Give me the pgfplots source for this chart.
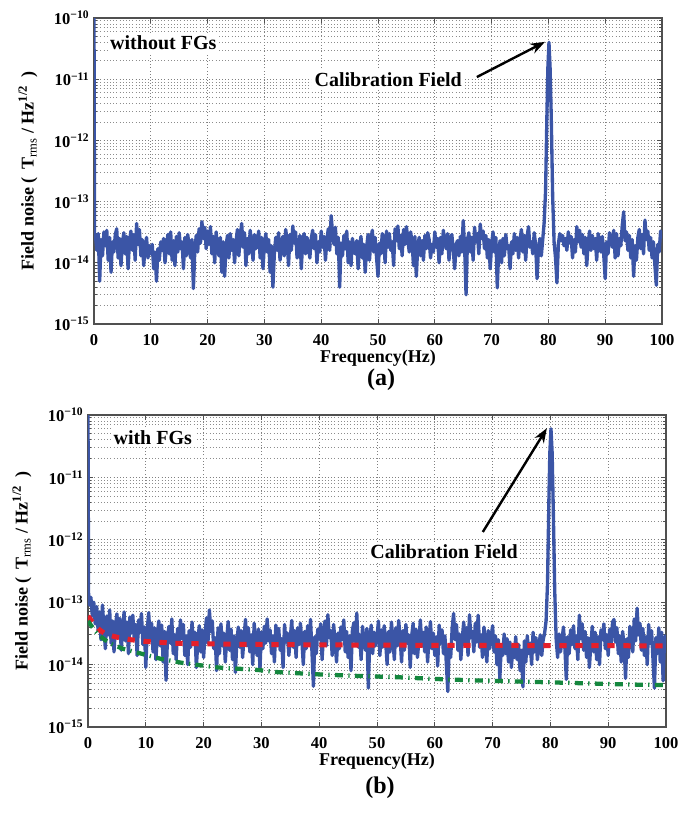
\documentclass[border=0pt]{standalone}
\usepackage{pgfplots}
\pgfplotsset{compat=1.18}
\usepackage{fontspec}
\setmainfont{Liberation Serif}
\usetikzlibrary{arrows.meta}
\definecolor{cblue}{HTML}{3B55A6}
\definecolor{cred}{HTML}{E51F2A}
\definecolor{cgreen}{HTML}{15873E}
\definecolor{cframe}{HTML}{505050}
\pgfplotsset{
 myax/.style={
  scale only axis, xmin=0, xmax=100, ymin=1e-15, ymax=1e-10,
  xtick={0,10,...,100}, ytick={1e-15,1e-14,1e-13,1e-12,1e-11,1e-10},
  yticklabels={10\textsuperscript{−15},10\textsuperscript{−14},10\textsuperscript{−13},10\textsuperscript{−12},10\textsuperscript{−11},10\textsuperscript{−10}},
  grid=both,
  major grid style={dotted, black!50, line width=0.6pt},
  minor grid style={dotted, black!45, line width=0.6pt},
  tick align=inside, major tick length=3.75pt, minor tick length=2.25pt,
  every tick/.style={cframe, line width=0.6pt},
  axis line style={cframe, line width=1pt},
  xticklabel style={font=\fontsize{12.4}{14}\selectfont\bfseries, yshift=-4pt, /pgf/number format/assume math mode=true},
  yticklabel style={font=\fontsize{12.4}{14}\selectfont\bfseries},
  every axis x label/.style={at={(rel axis cs:0.5,0)}, anchor=center, yshift=-26pt, font=\fontsize{13.5}{15}\selectfont\bfseries},
  every axis y label/.style={at={(rel axis cs:0,0.5)}, anchor=center, rotate=90, yshift=49.5pt, font=\fontsize{13.5}{15}\selectfont\bfseries},
  xlabel={Frequency(Hz)},
  ylabel={Field noise (\, T\textsubscript{\mdseries rms} / Hz\textsuperscript{1/2}\, )},
 },
 noise/.style={cblue, line width=2.5pt, line join=round, mark=none},
}
\begin{document}
\begin{tikzpicture}
\path[use as bounding box] (0,0) rectangle (513.75pt,-612pt);
% ---------------- panel (a) ----------------
\begin{axis}[ymode=log, myax, at={(70.5pt,-13.5pt)}, anchor=north west, width=426pt, height=229.5pt]
\addplot[noise] coordinates {
(0,1e-10)(0.1,2.9e-14)(0.25,2.8e-14)(0.5,1.6e-14)(0.75,3.0e-14)
(1,5e-15)(1.25,2.4e-14)(1.5,1.3e-14)(1.75,3.2e-14)
(2,1.9e-14)(2.25,3.4e-14)(2.5,1.1e-14)(2.75,2.6e-14)
(3,7e-15)(3.25,2.2e-14)(3.5,1.5e-14)(3.75,2.9e-14)
(4,3.6e-14)(4.25,1.2e-14)(4.5,2.5e-14)(4.75,9e-15)
(5,2.1e-14)(5.25,3.1e-14)(5.5,1.4e-14)(5.75,2.7e-14)
(6,8e-15)(6.25,2.3e-14)(6.5,3.3e-14)(6.75,1.6e-14)
(7,2.9e-14)(7.25,1.1e-14)(7.5,4.4e-14)(7.75,2.0e-14)
(8,3.5e-14)(8.25,1.3e-14)(8.5,2.4e-14)(8.75,9e-15)
(9,1.8e-14)(9.25,2.6e-14)(9.5,1.2e-14)(9.75,1.9e-14)
(10,1.4e-14)(10.25,2.0e-14)(10.5,8e-15)(10.75,1.5e-14)
(11,5e-15)(11.25,1.7e-14)(11.5,1.1e-14)(11.75,2.2e-14)
(12,1.6e-14)(12.25,2.5e-14)(12.5,1.0e-14)(12.75,1.8e-14)
(13,2.9e-14)(13.25,1.4e-14)(13.5,3.2e-14)(13.75,1.1e-14)
(14,2.3e-14)(14.25,9e-15)(14.5,2.7e-14)(14.75,1.5e-14)
(15,3.1e-14)(15.25,1.7e-14)(15.5,2.2e-14)(15.75,8e-15)
(16,2.6e-14)(16.25,1.3e-14)(16.5,2.9e-14)(16.75,1.9e-14)
(17,1.2e-14)(17.25,2.4e-14)(17.5,3.8e-15)(17.75,1.6e-14)
(18,2.8e-14)(18.25,1.5e-14)(18.5,3.6e-14)(18.75,2.1e-14)
(19,4.7e-14)(19.25,2.5e-14)(19.5,3.8e-14)(19.75,1.7e-14)
(20,3.3e-14)(20.25,2.0e-14)(20.5,3.9e-14)(20.75,1.4e-14)
(21,2.7e-14)(21.25,1.0e-14)(21.5,3.2e-14)(21.75,1.8e-14)
(22,1.3e-14)(22.25,2.6e-14)(22.5,7e-15)(22.75,2.2e-14)
(23,6e-15)(23.25,1.9e-14)(23.5,2.8e-14)(23.75,1.2e-14)
(24,3.0e-14)(24.25,1.6e-14)(24.5,2.4e-14)(24.75,1.0e-14)
(25,2.2e-14)(25.25,3.5e-14)(25.5,1.3e-14)(25.75,2.7e-14)
(26,4.4e-14)(26.25,1.8e-14)(26.5,3.1e-14)(26.75,9e-15)
(27,2.5e-14)(27.25,1.4e-14)(27.5,3.4e-14)(27.75,2.0e-14)
(28,1.1e-14)(28.25,2.9e-14)(28.5,1.7e-14)(28.75,2.3e-14)
(29,3.3e-14)(29.25,1.2e-14)(29.5,2.6e-14)(29.75,8e-15)
(30,2.0e-14)(30.25,3.0e-14)(30.5,1.5e-14)(30.75,2.4e-14)
(31,7e-15)(31.25,1.9e-14)(31.5,4e-15)(31.75,1.4e-14)
(32,2.6e-14)(32.25,1.6e-14)(32.5,3.1e-14)(32.75,1.1e-14)
(33,1.8e-14)(33.25,2.7e-14)(33.5,1.3e-14)(33.75,3.5e-14)
(34,2.3e-14)(34.25,9e-15)(34.5,2.9e-14)(34.75,1.6e-14)
(35,4.0e-14)(35.25,2.1e-14)(35.5,3.2e-14)(35.75,1.2e-14)
(36,1.5e-14)(36.25,2.8e-14)(36.5,8e-15)(36.75,2.4e-14)
(37,3.0e-14)(37.25,1.4e-14)(37.5,2.6e-14)(37.75,1.9e-14)
(38,1.2e-14)(38.25,2.5e-14)(38.5,3.4e-14)(38.75,1.7e-14)
(39,2.9e-14)(39.25,1.0e-14)(39.5,2.2e-14)(39.75,1.5e-14)
(40,3.3e-14)(40.25,1.8e-14)(40.5,2.7e-14)(40.75,1.1e-14)
(41,2.4e-14)(41.25,3.6e-14)(41.5,1.6e-14)(41.75,5.9e-14)
(42,3.1e-14)(42.25,2.0e-14)(42.5,3.8e-14)(42.75,1.4e-14)
(43,2.6e-14)(43.25,4e-15)(43.5,2.1e-14)(43.75,1.3e-14)
(44,2.8e-14)(44.25,1.7e-14)(44.5,3.3e-14)(44.75,1.0e-14)
(45,2.2e-14)(45.25,9e-15)(45.5,2.5e-14)(45.75,1.6e-14)
(46,1.4e-14)(46.25,2.3e-14)(46.5,8e-15)(46.75,1.9e-14)
(47,2.7e-14)(47.25,1.2e-14)(47.5,2.0e-14)(47.75,7e-15)
(48,1.8e-14)(48.25,2.9e-14)(48.5,1.1e-14)(48.75,2.4e-14)
(49,3.4e-14)(49.25,1.5e-14)(49.5,2.6e-14)(49.75,1.2e-14)
(50,6e-15)(50.25,2.1e-14)(50.5,1.4e-14)(50.75,3.0e-14)
(51,2.5e-14)(51.25,1.0e-14)(51.5,3.3e-14)(51.75,1.8e-14)
(52,3.0e-14)(52.25,1.6e-14)(52.5,2.2e-14)(52.75,9e-15)
(53,3.6e-14)(53.25,2.3e-14)(53.5,4.0e-14)(53.75,1.7e-14)
(54,2.8e-14)(54.25,1.3e-14)(54.5,3.5e-14)(54.75,2.0e-14)
(55,3.9e-14)(55.25,2.4e-14)(55.5,1.5e-14)(55.75,3.2e-14)
(56,2.1e-14)(56.25,9e-15)(56.5,2.7e-14)(56.75,6e-15)
(57,1.9e-14)(57.25,2.6e-14)(57.5,1.3e-14)(57.75,2.3e-14)
(58,1.1e-14)(58.25,2.8e-14)(58.5,1.7e-14)(58.75,3.1e-14)
(59,2.4e-14)(59.25,1.2e-14)(59.5,2.0e-14)(59.75,1.5e-14)
(60,3.2e-14)(60.25,1.8e-14)(60.5,2.5e-14)(60.75,1.0e-14)
(61,2.6e-14)(61.25,1.4e-14)(61.5,3.4e-14)(61.75,2.2e-14)
(62,1.7e-14)(62.25,3.0e-14)(62.5,1.1e-14)(62.75,2.5e-14)
(63,2.9e-14)(63.25,1.6e-14)(63.5,8e-15)(63.75,2.0e-14)
(64,2.3e-14)(64.25,1.3e-14)(64.5,2.7e-14)(64.75,1.5e-14)
(65,4.9e-14)(65.25,1.8e-14)(65.5,3e-15)(65.75,2.4e-14)
(66,3.1e-14)(66.25,1.5e-14)(66.5,2.6e-14)(66.75,1.1e-14)
(67,3.8e-14)(67.25,2.2e-14)(67.5,3.0e-14)(67.75,1.4e-14)
(68,4.3e-14)(68.25,2.5e-14)(68.5,3.3e-14)(68.75,1.7e-14)
(69,2.8e-14)(69.25,1.2e-14)(69.5,2.4e-14)(69.75,8e-15)
(70,2.0e-14)(70.25,3.2e-14)(70.5,1.5e-14)(70.75,2.6e-14)
(71,3.9e-15)(71.25,1.6e-14)(71.5,2.3e-14)(71.75,1.0e-14)
(72,2.5e-14)(72.25,1.3e-14)(72.5,2.9e-14)(72.75,1.7e-14)
(73,1.9e-14)(73.25,8e-15)(73.5,2.2e-14)(73.75,1.4e-14)
(74,3.0e-14)(74.25,1.6e-14)(74.5,2.6e-14)(74.75,1.2e-14)
(75,2.4e-14)(75.25,3.5e-14)(75.5,1.5e-14)(75.75,2.8e-14)
(76,1.1e-14)(76.25,2.7e-14)(76.5,3.9e-14)(76.75,1.8e-14)
(77,2.2e-14)(77.25,1.4e-14)(77.5,3.1e-14)(77.75,2.0e-14)
(78,5.5e-15)(78.25,1.7e-14)(78.5,2.5e-14)(78.75,1.3e-14)
(79,2.4e-14)(79.25,4.5e-14)(79.5,1.5e-13)(79.75,3e-12)(79.9,1.5e-11)
(80.1,4e-11)(80.3,1.5e-11)(80.5,2.5e-12)(80.75,1.2e-13)
(81,2.2e-14)(81.25,1.2e-14)(81.5,4.7e-15)(81.75,2.0e-14)
(82,3.0e-14)(82.25,2.3e-14)(82.5,2.8e-14)(82.75,1.9e-14)
(83,2.5e-14)(83.25,1.6e-14)(83.5,3.2e-14)(83.75,2.1e-14)
(84,2.7e-14)(84.25,1.2e-14)(84.5,2.4e-14)(84.75,1.5e-14)
(85,3.9e-14)(85.25,2.2e-14)(85.5,3.4e-14)(85.75,1.8e-14)
(86,2.9e-14)(86.25,1.4e-14)(86.5,2.6e-14)(86.75,9e-15)
(87,2.1e-14)(87.25,3.3e-14)(87.5,1.6e-14)(87.75,2.8e-14)
(88,1.7e-14)(88.25,2.5e-14)(88.5,1.1e-14)(88.75,3.0e-14)
(89,2.3e-14)(89.25,1.5e-14)(89.5,2.7e-14)(89.75,1.3e-14)
(90,5.5e-15)(90.25,2.2e-14)(90.5,1.4e-14)(90.75,3.1e-14)
(91,2.6e-14)(91.25,1.8e-14)(91.5,3.4e-14)(91.75,1.2e-14)
(92,3.0e-14)(92.25,1.3e-14)(92.5,2.5e-14)(92.75,1.9e-14)
(93,4.1e-14)(93.25,6.8e-14)(93.5,2.3e-14)(93.75,3.2e-14)
(94,1.6e-14)(94.25,2.8e-14)(94.5,1.2e-14)(94.75,2.4e-14)
(95,6e-15)(95.25,1.9e-14)(95.5,1.1e-14)(95.75,2.6e-14)
(96,3.5e-14)(96.25,1.7e-14)(96.5,2.9e-14)(96.75,1.4e-14)
(97,5.0e-14)(97.25,2.4e-14)(97.5,3.3e-14)(97.75,1.6e-14)
(98,2.6e-14)(98.25,1.2e-14)(98.5,2.2e-14)(98.75,9e-15)
(99,4.3e-15)(99.25,2.0e-14)(99.5,1.5e-14)(99.75,3.3e-14)
(100,2.5e-14)
};
\node[fill=white, inner sep=2pt, font=\fontsize{15}{17}\selectfont\bfseries] at (rel axis cs:0.122,0.918) {without FGs};
\node[fill=white, inner sep=2pt, font=\fontsize{15}{17}\selectfont\bfseries] at (rel axis cs:0.518,0.797) {Calibration Field};
\draw[-{Stealth[length=11pt,width=8pt]}, line width=1.8pt] (rel axis cs:0.674,0.807) -- (rel axis cs:0.794,0.922);
\end{axis}
% ---------------- panel (b) ----------------
\begin{axis}[ymode=log, myax, at={(66pt,-311.25pt)}, anchor=north west, width=433.5pt, height=234pt]
\addplot[noise] coordinates {
(0,1e-10)(0.1,1.4e-13)(0.25,9e-14)(0.5,1.2e-13)(0.75,6e-14)
(1,1.0e-13)(1.25,4.5e-14)(1.5,8.5e-14)(1.75,3.5e-14)
(2,7e-14)(2.25,2.5e-14)(2.5,9e-14)(2.75,4e-14)
(3,1.8e-14)(3.25,6e-14)(3.5,3e-14)(3.75,7.5e-14)
(4,2.2e-14)(4.25,5e-14)(4.5,1.6e-14)(4.75,4.2e-14)
(5,6.5e-14)(5.25,2.8e-14)(5.5,5.5e-14)(5.75,1.7e-14)
(6,3.8e-14)(6.25,7e-14)(6.5,2.4e-14)(6.75,4.8e-14)
(7,1.5e-14)(7.25,5.8e-14)(7.5,3.2e-14)(7.75,6.2e-14)
(8,2.6e-14)(8.25,4.4e-14)(8.5,1.4e-14)(8.75,5.2e-14)
(9,3.3e-14)(9.25,6.6e-14)(9.5,2.1e-14)(9.75,4.0e-14)
(10,9e-15)(10.25,3.6e-14)(10.5,6.8e-14)(10.75,2.5e-14)
(11,4.6e-14)(11.25,1.6e-14)(11.5,3.9e-14)(11.75,1.2e-14)
(12,3.1e-14)(12.25,5.0e-14)(12.5,2.0e-14)(12.75,4.3e-14)
(13,1.1e-14)(13.25,3.4e-14)(13.5,5.6e-15)(13.75,2.7e-14)
(14,4.1e-14)(14.25,2.2e-14)(14.5,5.4e-14)(14.75,1.5e-14)
(15,3.0e-14)(15.25,1.2e-14)(15.5,3.8e-14)(15.75,2.3e-14)
(16,5.2e-14)(16.25,2.6e-14)(16.5,4.4e-14)(16.75,1.4e-14)
(17,2.9e-14)(17.25,1.0e-14)(17.5,3.5e-14)(17.75,1.9e-14)
(18,4.8e-14)(18.25,2.1e-14)(18.5,3.3e-14)(18.75,9e-15)
(19,2.4e-14)(19.25,4.2e-14)(19.5,1.6e-14)(19.75,3.6e-14)
(20,1.3e-14)(20.25,3.1e-14)(20.5,5.6e-14)(20.75,2.2e-14)
(21,7.5e-14)(21.25,3.4e-14)(21.5,5.0e-14)(21.75,1.8e-14)
(22,2.7e-14)(22.25,8e-15)(22.5,3.9e-14)(22.75,1.5e-14)
(23,4.5e-14)(23.25,2.0e-14)(23.5,3.2e-14)(23.75,1.1e-14)
(24,2.6e-14)(24.25,4.9e-14)(24.5,1.7e-14)(24.75,3.7e-14)
(25,1.2e-14)(25.25,2.9e-14)(25.5,7.5e-15)(25.75,2.3e-14)
(26,4.0e-14)(26.25,1.9e-14)(26.5,3.5e-14)(26.75,1.3e-14)
(27,2.8e-14)(27.25,5.3e-14)(27.5,2.0e-14)(27.75,3.9e-14)
(28,1.6e-14)(28.25,3.0e-14)(28.5,1.0e-14)(28.75,4.6e-14)
(29,2.5e-14)(29.25,1.4e-14)(29.5,3.7e-14)(29.75,8.5e-15)
(30,3.3e-14)(30.25,1.8e-14)(30.5,4.1e-14)(30.75,2.2e-14)
(31,5.4e-14)(31.25,2.4e-14)(31.5,3.6e-14)(31.75,1.5e-14)
(32,2.9e-14)(32.25,1.1e-14)(32.5,4.3e-14)(32.75,2.0e-14)
(33,3.8e-14)(33.25,1.7e-14)(33.5,2.6e-14)(33.75,9e-15)
(34,4.4e-14)(34.25,2.3e-14)(34.5,3.2e-14)(34.75,1.4e-14)
(35,2.7e-14)(35.25,5.1e-14)(35.5,1.9e-14)(35.75,3.5e-14)
(36,1.3e-14)(36.25,3.9e-14)(36.5,2.1e-14)(36.75,4.6e-14)
(37,2.4e-14)(37.25,1.0e-14)(37.5,3.4e-14)(37.75,1.8e-14)
(38,4.2e-14)(38.25,2.2e-14)(38.5,5.3e-14)(38.75,1.6e-14)
(39,4.5e-15)(39.25,2.8e-14)(39.5,1.5e-14)(39.75,3.7e-14)
(40,2.6e-14)(40.25,4.5e-14)(40.5,1.2e-14)(40.75,3.1e-14)
(41,5.0e-14)(41.25,2.0e-14)(41.5,6.3e-14)(41.75,2.7e-14)
(42,3.5e-14)(42.25,1.4e-14)(42.5,4.4e-14)(42.75,2.2e-14)
(43,1.1e-14)(43.25,3.2e-14)(43.5,1.8e-14)(43.75,4.0e-14)
(44,2.5e-14)(44.25,5.2e-14)(44.5,1.6e-14)(44.75,3.4e-14)
(45,1.3e-14)(45.25,2.9e-14)(45.5,8e-15)(45.75,3.6e-14)
(46,4.7e-14)(46.25,2.3e-14)(46.5,6.7e-14)(46.75,1.9e-14)
(47,3.0e-14)(47.25,1.2e-14)(47.5,4.1e-14)(47.75,2.4e-14)
(48,1.7e-14)(48.25,3.8e-14)(48.5,4.2e-15)(48.75,2.6e-14)
(49,4.3e-14)(49.25,1.5e-14)(49.5,3.3e-14)(49.75,2.0e-14)
(50,2.8e-14)(50.25,5.0e-14)(50.5,1.4e-14)(50.75,3.6e-14)
(51,1.9e-14)(51.25,4.2e-14)(51.5,2.3e-14)(51.75,1.0e-14)
(52,3.4e-14)(52.25,1.6e-14)(52.5,4.8e-14)(52.75,2.5e-14)
(53,1.2e-14)(53.25,3.9e-14)(53.5,2.0e-14)(53.75,5.1e-14)
(54,2.7e-14)(54.25,1.1e-14)(54.5,3.5e-14)(54.75,1.7e-14)
(55,4.4e-14)(55.25,2.2e-14)(55.5,3.0e-14)(55.75,9e-15)
(56,2.9e-14)(56.25,4.6e-14)(56.5,1.5e-14)(56.75,3.7e-14)
(57,1.3e-14)(57.25,2.4e-14)(57.5,5.2e-14)(57.75,2.0e-14)
(58,3.3e-14)(58.25,1.6e-14)(58.5,4.0e-14)(58.75,1.1e-14)
(59,2.6e-14)(59.25,4.9e-14)(59.5,1.8e-14)(59.75,3.2e-14)
(60,1.4e-14)(60.25,2.8e-14)(60.5,9.5e-15)(60.75,4.3e-14)
(61,2.2e-14)(61.25,3.6e-14)(61.5,1.5e-14)(61.75,2.9e-14)
(62,1.0e-14)(62.25,3.7e-15)(62.5,2.1e-14)(62.75,1.3e-14)
(63,3.8e-14)(63.25,6.6e-14)(63.5,2.5e-14)(63.75,4.4e-14)
(64,1.7e-14)(64.25,3.1e-14)(64.5,1.2e-14)(64.75,2.6e-14)
(65,4.8e-14)(65.25,2.0e-14)(65.5,3.9e-14)(65.75,1.4e-14)
(66,6.3e-14)(66.25,2.7e-14)(66.5,3.4e-14)(66.75,1.6e-14)
(67,4.6e-14)(67.25,2.3e-14)(67.5,6.2e-14)(67.75,1.9e-14)
(68,3.0e-14)(68.25,1.3e-14)(68.5,4.0e-14)(68.75,2.4e-14)
(69,1.1e-14)(69.25,3.5e-14)(69.5,1.8e-14)(69.75,2.8e-14)
(70,4.2e-14)(70.25,1.6e-14)(70.5,2.9e-14)(70.75,1.0e-14)
(71,2.5e-14)(71.25,6e-15)(71.5,2.0e-14)(71.75,1.4e-14)
(72,3.1e-14)(72.25,1.5e-14)(72.5,2.6e-14)(72.75,1.1e-14)
(73,2.3e-14)(73.25,9e-15)(73.5,1.9e-14)(73.75,1.3e-14)
(74,2.8e-14)(74.25,1.2e-14)(74.5,2.1e-14)(74.75,8e-15)
(75,1.7e-14)(75.25,4.4e-15)(75.5,2.4e-14)(75.75,1.1e-14)
(76,2.9e-14)(76.25,1.5e-14)(76.5,2.2e-14)(76.75,1.0e-14)
(77,3.3e-14)(77.25,1.6e-14)(77.5,2.7e-14)(77.75,1.2e-14)
(78,2.0e-14)(78.25,3.0e-14)(78.5,1.4e-14)(78.75,2.5e-14)
(79,3.2e-14)(79.25,5.0e-14)(79.5,2.0e-13)(79.75,5e-12)(79.9,2.5e-11)
(80.1,6e-11)(80.3,2.5e-11)(80.5,3e-12)(80.75,1.5e-13)
(81,2.5e-14)(81.25,1.3e-14)(81.5,3.1e-14)(81.75,1.6e-14)
(82,2.4e-14)(82.25,4.0e-14)(82.5,1.9e-14)(82.75,5.8e-15)
(83,2.8e-14)(83.25,1.5e-14)(83.5,3.6e-14)(83.75,2.1e-14)
(84,4.2e-14)(84.25,1.8e-14)(84.5,2.9e-14)(84.75,1.2e-14)
(85,6.2e-14)(85.25,2.6e-14)(85.5,4.5e-14)(85.75,1.7e-14)
(86,3.4e-14)(86.25,1.3e-14)(86.5,2.7e-14)(86.75,9e-15)
(87,2.2e-14)(87.25,4.1e-14)(87.5,1.6e-14)(87.75,3.3e-14)
(88,1.2e-14)(88.25,2.8e-14)(88.5,1.0e-14)(88.75,3.6e-14)
(89,2.5e-14)(89.25,4.5e-14)(89.5,1.8e-14)(89.75,3.0e-14)
(90,1.4e-14)(90.25,3.7e-14)(90.5,2.1e-14)(90.75,4.8e-14)
(91,5.3e-14)(91.25,2.3e-14)(91.5,3.9e-14)(91.75,1.5e-14)
(92,2.9e-14)(92.25,1.1e-14)(92.5,3.4e-14)(92.75,2.0e-14)
(93,6e-15)(93.25,2.6e-14)(93.5,1.3e-14)(93.75,4.1e-14)
(94,3.2e-14)(94.25,1.6e-14)(94.5,5.4e-14)(94.75,2.4e-14)
(95,8.0e-14)(95.25,3.0e-14)(95.5,4.6e-14)(95.75,1.7e-14)
(96,3.8e-14)(96.25,1.4e-14)(96.5,2.8e-14)(96.75,1.0e-14)
(97,4.4e-14)(97.25,2.2e-14)(97.5,3.5e-14)(97.75,1.2e-14)
(98,4.2e-15)(98.25,2.7e-14)(98.5,1.5e-14)(98.75,3.9e-14)
(99,1.1e-14)(99.25,3.3e-14)(99.5,5.5e-15)(99.75,2.6e-14)
(100,3.0e-14)
};
\addplot[cred, line width=3.75pt, dash pattern=on 5.5pt off 6.5pt, mark=none] coordinates {
(0,6e-14)(0.5,5.2e-14)(1,4.5e-14)(2,3.6e-14)(3,3.1e-14)(5,2.75e-14)(7.5,2.5e-14)(10,2.35e-14)(15,2.2e-14)(20,2.15e-14)(30,2.1e-14)(50,2.05e-14)(100,2.0e-14)
};
\addplot[cgreen, line width=3.2pt, dash pattern=on 6pt off 4pt on 1pt off 4pt, mark=none] coordinates {
(0,5e-14)(0.5,4.3e-14)(1.1,3.6e-14)(2,2.9e-14)(2.9,2.5e-14)(4,2.15e-14)(6,1.8e-14)(9.2,1.5e-14)(12.7,1.23e-14)(16.2,1.07e-14)(19.3,9.8e-15)(22.5,9e-15)(26,8.6e-15)(29.5,8.2e-15)(32.6,7.6e-15)(36.1,7.3e-15)(39.5,7.0e-15)(46.4,6.6e-15)(53.3,6.3e-15)(59.9,5.9e-15)(66.5,5.6e-15)(73,5.4e-15)(79.9,5.2e-15)(86.5,5.0e-15)(93.5,4.8e-15)(100,4.7e-15)
};
\node[fill=white, inner sep=2pt, font=\fontsize{15}{17}\selectfont\bfseries] at (rel axis cs:0.112,0.929) {with FGs};
\node[fill=white, inner sep=2pt, font=\fontsize{15}{17}\selectfont\bfseries] at (rel axis cs:0.616,0.561) {Calibration Field};
\draw[-{Stealth[length=11pt,width=8pt]}, line width=1.8pt] (rel axis cs:0.683,0.625) -- (rel axis cs:0.794,0.958);
\end{axis}
\node[font=\fontsize{18}{20}\selectfont\bfseries] at (285.75pt,-285pt) {(a)};
\node[font=\fontsize{18}{20}\selectfont\bfseries] at (285pt,-591pt) {(b)};
\end{tikzpicture}
\end{document}
